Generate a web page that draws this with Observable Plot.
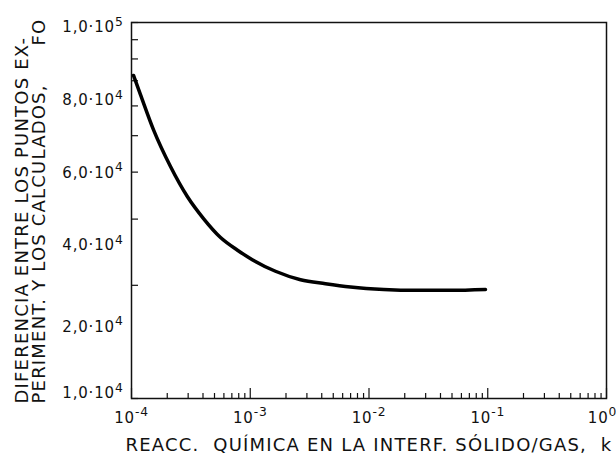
<!DOCTYPE html>
<html><head><meta charset="utf-8">
<script src="https://cdn.jsdelivr.net/npm/d3@7"></script>
<script src="https://cdn.jsdelivr.net/npm/@observablehq/plot@0.6"></script>
<style>body{margin:0;background:#fff} svg{display:block}</style>
</head><body><div id="chart"></div>
<script>
// Curve: objective function FO vs. gas/solid interface reaction constant k
const kValues  = [1.04e-4, 1.19e-4, 1.53e-4, 2.13e-4, 2.96e-4, 4.04e-4, 5.62e-4, 7.81e-4, 1.04e-3, 1.63e-3, 2.65e-3, 4.30e-3, 6.99e-3, 1.33e-2, 2.56e-2, 4.86e-2, 9.57e-2];
const foValues = [7.23e4, 6.43e4, 5.19e4, 4.14e4, 3.44e4, 3.01e4, 2.68e4, 2.48e4, 2.34e4, 2.18e4, 2.07e4, 2.02e4, 1.98e4, 1.95e4, 1.94e4, 1.94e4, 1.95e4];

// x axis (log): decade ticks and labels
const xDecades = [1e-4, 1e-3, 1e-2, 1e-1, 1e0];
const xTickLabels = ["10^-4", "10^-3", "10^-2", "10^-1", "10^0"];
const xMinor = d3.range(-4, 0).flatMap(e => d3.range(2, 10).map(m => m * Math.pow(10, e)));

// y axis (log): minor ticks and the printed labels (at the heights where they are lettered)
const yMinor = d3.range(1, 11).map(m => m * 1e4);
const yLabelAt = [1.03e4, 1.55e4, 2.55e4, 3.97e4, 6.2e4, 9.7e4];
const yTickLabels = ["1,0\u00B710^4", "2,0\u00B710^4", "4,0\u00B710^4", "6,0\u00B710^4", "8,0\u00B710^4", "1,0\u00B710^5"];

const xTitle = "REACC.  QUÍMICA EN LA INTERF. SÓLIDO/GAS,  k";
const yTitle1 = "DIFERENCIA ENTRE LOS PUNTOS EX-";
const yTitle2 = "PERIMENT. Y LOS CALCULADOS,";
const yTitle3 = "FO";
const titles = [xTitle, yTitle1, yTitle2, yTitle3];

const data = kValues.map((k, i) => ({k, fo: foValues[i]}));
const xLab = new Map(xDecades.map((d, i) => [d, xTickLabels[i]]));
const yLab = new Map(yLabelAt.map((d, i) => [d, yTickLabels[i]]));

const W = 616, H = 461, mL = 131, mR = 10, mT = 22, mB = 63;
const frameW = W - mL - mR, frameH = H - mT - mB;
const font = "DejaVu Sans, sans-serif";
const ink = "#111";

const chart = Plot.plot({
  width: W,
  height: H,
  marginLeft: mL,
  marginRight: mR,
  marginTop: mT,
  marginBottom: mB,
  style: {fontFamily: font, background: "#fff", color: ink},
  x: {type: "log", domain: [1e-4, 1], axis: null},
  y: {type: "log", domain: [1e4, 1e5], axis: null},
  marks: [
    // inward ticks (short rules anchored on the frame)
    Plot.ruleX(xMinor, {x: d => d, insetTop: frameH - 5, stroke: ink, strokeWidth: 1.2}),
    Plot.ruleX(xDecades, {x: d => d, insetTop: frameH - 10, stroke: ink, strokeWidth: 1.2}),
    Plot.ruleY(yMinor, {y: d => d, insetRight: frameW - 7, stroke: ink, strokeWidth: 1.2}),
    // tick labels
    Plot.axisX({ticks: xDecades.slice(0, 4), tickSize: 0, tickPadding: 14, tickFormat: d => xLab.get(d), fontSize: 15, label: null}),
    Plot.axisX({ticks: xDecades.slice(4), tickSize: 0, tickPadding: 14, dx: -4, tickFormat: d => xLab.get(d), fontSize: 15, label: null}),
    Plot.axisY({ticks: yLabelAt, tickSize: 0, tickPadding: 8, tickFormat: d => yLab.get(d), fontSize: 15, label: null}),
    Plot.frame({stroke: ink, strokeWidth: 1.5}),
    Plot.line(data, {x: "k", y: "fo", curve: "monotone-x", stroke: "#000", strokeWidth: 3.5}),
    Plot.text([xTitle], {frameAnchor: "bottom-left", textAnchor: "start", lineAnchor: "middle", dx: -6, dy: 47, fontSize: 18, fill: ink}),
    Plot.text([yTitle1], {frameAnchor: "bottom-left", rotate: -90, textAnchor: "start", lineAnchor: "middle", dx: -109, dy: 5, fontSize: 18, fill: ink}),
    Plot.text([yTitle2], {frameAnchor: "bottom-left", rotate: -90, textAnchor: "start", lineAnchor: "middle", dx: -92, dy: 5, fontSize: 18, fill: ink}),
    Plot.text([yTitle3], {frameAnchor: "top-left", rotate: -90, textAnchor: "start", lineAnchor: "middle", dx: -92, dy: 23, fontSize: 18, fill: ink})
  ]
});

d3.select(chart).selectAll("text").each(function () {
  const t = d3.select(this);
  const s = t.text();
  if (titles.includes(s)) {
    // letter spacing for the hand-lettered look
    t.style("letter-spacing", "1.2px");
  } else if (s.includes("^")) {
    // superscript exponents in tick labels
    const [base, sup] = s.split("^");
    t.text(null).style("letter-spacing", "0.8px");
    t.append("tspan").text(base);
    t.append("tspan").attr("dy", "-0.55em").attr("font-size", "82%").text(sup);
  }
});
document.getElementById("chart").appendChild(chart);
</script>
</body></html>
